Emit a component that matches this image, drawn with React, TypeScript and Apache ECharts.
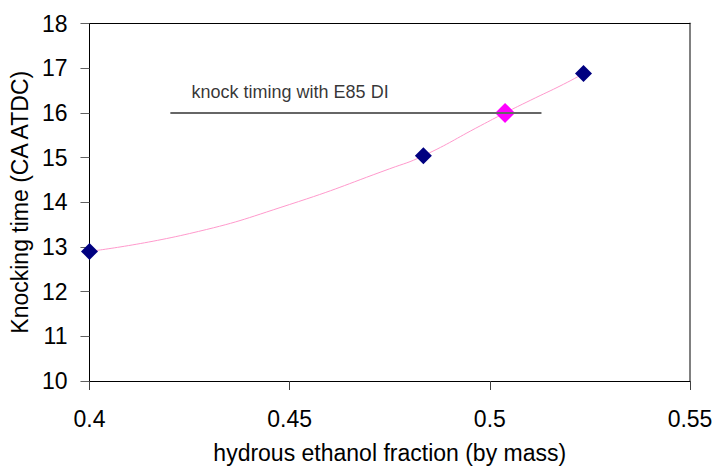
import React, { useEffect, useRef } from "react";
import * as echarts from "echarts";

// measured points (hydrous ethanol fraction vs knocking time)
const measuredX = [0.4, 0.4834, 0.5234];
const measuredY = [12.9, 15.04, 16.88];

// E85 DI reference point
const e85X = [0.5038];
const e85Y = [16.0];

// trendline
const trendX = [0.4, 0.425, 0.45, 0.475, 0.4834, 0.4976, 0.5038, 0.5101, 0.5184, 0.5234];
const trendY = [12.9, 13.3, 13.95, 14.75, 15.04, 15.71, 16.0, 16.28, 16.64, 16.88];

// "knock timing with E85 DI" reference line
const refLineX = [0.4202, 0.5129];
const refLineY = [16.0, 16.0];
const refLabel = "knock timing with E85 DI";
const refLabelPos = [0.42537, 16.46];

const xTicks = [0.4, 0.45, 0.5, 0.55];
const yTicks = [10, 11, 12, 13, 14, 15, 16, 17, 18];

const FONT = "'Liberation Sans', Arial, sans-serif";

export default function App() {
  const ref = useRef<HTMLDivElement>(null);
  useEffect(() => {
    if (!ref.current) return;
    const chart = echarts.init(ref.current, null, { renderer: "svg" });
    const zip = (xs: number[], ys: number[]) => xs.map((x, i) => [x, ys[i]]);
    chart.setOption({
      animation: false,
      backgroundColor: "#ffffff",
      textStyle: { fontFamily: FONT },
      grid: { left: 89, right: 26, top: 23.5, bottom: 83, containLabel: false },
      xAxis: [
        {
          type: "value",
          min: xTicks[0],
          max: xTicks[xTicks.length - 1],
          interval: 0.05,
          name: "hydrous ethanol fraction (by mass)",
          nameLocation: "middle",
          nameGap: 60,
          nameTextStyle: { fontSize: 23, color: "#000", fontFamily: FONT },
          axisLine: { show: true, onZero: false, lineStyle: { color: "#000", width: 1 } },
          axisTick: { show: true, inside: false, length: 9, lineStyle: { color: "#404040" } },
          axisLabel: { fontSize: 23, color: "#000", margin: 26, fontFamily: FONT, formatter: (v: number) => String(+v.toFixed(2)) },
          splitLine: { show: false },
        },
        {
          type: "value",
          position: "top",
          min: xTicks[0],
          max: xTicks[xTicks.length - 1],
          axisLine: { show: true, onZero: false, lineStyle: { color: "#000", width: 1 } },
          axisTick: { show: false },
          axisLabel: { show: false },
          splitLine: { show: false },
        },
      ],
      yAxis: [
        {
          type: "value",
          min: yTicks[0],
          max: yTicks[yTicks.length - 1],
          interval: 1,
          name: "Knocking time (CA ATDC)",
          nameLocation: "middle",
          nameGap: 45,
          nameTextStyle: { fontSize: 23, color: "#000", fontFamily: FONT },
          axisLine: { show: true, onZero: false, lineStyle: { color: "#000", width: 1 } },
          axisTick: { show: true, inside: false, length: 9, lineStyle: { color: "#606060" } },
          axisLabel: { fontSize: 23, color: "#000", margin: 22, fontFamily: FONT },
          splitLine: { show: false },
        },
        {
          type: "value",
          position: "right",
          min: yTicks[0],
          max: yTicks[yTicks.length - 1],
          axisLine: { show: true, onZero: false, lineStyle: { color: "#808080", width: 2 } },
          axisTick: { show: false },
          axisLabel: { show: false },
          splitLine: { show: false },
        },
      ],
      series: [
        {
          type: "line",
          data: zip(trendX, trendY),
          smooth: true,
          showSymbol: false,
          symbol: "none",
          lineStyle: { color: "#FF99CC", width: 1 },
          z: 2,
        },
        {
          type: "scatter",
          data: zip(measuredX, measuredY),
          symbol: "diamond",
          symbolSize: 17,
          itemStyle: { color: "#000080", opacity: 1 },
          z: 3,
        },
        {
          type: "scatter",
          data: zip(e85X, e85Y),
          symbol: "diamond",
          symbolSize: 20,
          itemStyle: { color: "#FF00FF", opacity: 1 },
          z: 4,
        },
        {
          type: "line",
          data: zip(refLineX, refLineY),
          symbol: "none",
          lineStyle: { color: "#666666", width: 2 },
          z: 5,
        },
        {
          type: "scatter",
          data: [refLabelPos],
          symbol: "circle",
          symbolSize: 1,
          itemStyle: { color: "rgba(0,0,0,0)" },
          label: {
            show: true,
            position: "right",
            distance: 0,
            formatter: refLabel,
            fontSize: 18,
            color: "#000",
            fontFamily: FONT,
          },
          z: 6,
        },
      ],
    });
    return () => chart.dispose();
  }, []);
  return <div ref={ref} style={{ width: 716, height: 469, position: "absolute", left: 0, top: 0 }} />;
}
